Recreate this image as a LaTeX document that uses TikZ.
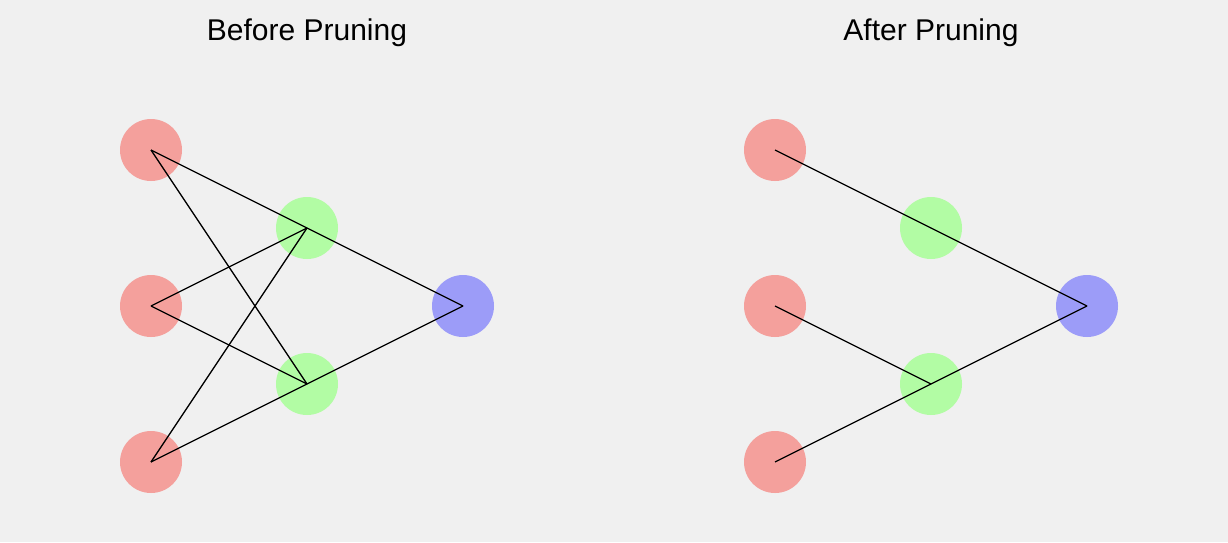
\documentclass[tikz,border=0pt]{standalone}
\usepackage{fontspec}
\setsansfont{Liberation Sans}
\definecolor{PruneBack}{RGB}{240,240,240}
\definecolor{PruneColorIn}{RGB}{244,160,156}
\definecolor{PruneColorHid}{RGB}{178,252,164}
\definecolor{PruneColorOut}{RGB}{156,156,248}

\begin{document}
\begin{tikzpicture}[x=1pt,y=-1pt,
  nrn/.style={circle,fill=#1,minimum size=62pt,inner sep=0pt},
  wgt/.style={line width=1.3pt,black},
  ttl/.style={font=\sffamily\fontsize{30}{36}\selectfont,anchor=base}]
    \fill[PruneBack] (0,0) rectangle (1228,542);
    \useasboundingbox (0,0) rectangle (1228,542);
    % both panels, p = prefix, \dx = shift
    \foreach \p/\dx/\t in {b/0/Before Pruning,a/624/After Pruning} {
       \node[ttl] (\p title) at (307+\dx,40) {\t};
       \foreach \i/\y in {1/150,2/306,3/462} {
          \node[nrn=PruneColorIn] (\p i\i) at (151+\dx,\y) {};
       }
       \node[nrn=PruneColorHid] (\p h1) at (307+\dx,228) {};
       \node[nrn=PruneColorHid] (\p h2) at (307+\dx,384) {};
       \node[nrn=PruneColorOut] (\p o) at (463+\dx,306) {};
    }
    % before
    \foreach \s/\e in {i1/h1,i1/h2,i2/h1,i2/h2,i3/h1,i3/h2,h1/o,h2/o} {
       \draw[wgt] (b\s.center) -- (b\e.center);
    }
    % after
    \foreach \s/\e in {i1/h1,h1/o,i2/h2,i3/h2,h2/o} {
       \draw[wgt] (a\s.center) -- (a\e.center);
    }
\end{tikzpicture}
\end{document}
